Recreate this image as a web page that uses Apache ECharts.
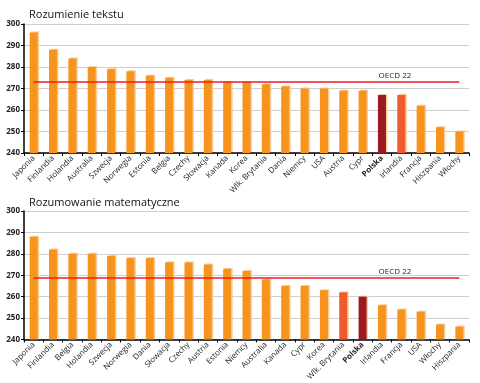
<!DOCTYPE html>
<html><head><meta charset="utf-8">
<script src="https://cdn.jsdelivr.net/npm/echarts@6/dist/echarts.min.js"></script>
<style>html,body{margin:0;padding:0;background:#fff}#c{width:480px;height:383px}</style>
</head><body><div id="c"></div>
<script>
const readCats = ["Japonia","Finlandia","Holandia","Australia","Szwecja","Norwegia","Estonia","Belgia","Czechy","Słowacja","Kanada","Korea","Wlk. Brytania","Dania","Niemcy","USA","Austria","Cypr","Polska","Irlandia","Francja","Hiszpania","Włochy"];
const readVals = [296,288,284,280,279,278,276,275,274,274,273,273,272,271,270,270,269,269,267,267,262,252,250];
const readOECD = 273;
const mathCats = ["Japonia","Finlandia","Belgia","Holandia","Szwecja","Norwegia","Dania","Słowacja","Czechy","Austria","Estonia","Niemcy","Australia","Kanada","Cypr","Korea","Wlk. Brytania","Polska","Irlandia","Francja","USA","Włochy","Hiszpania"];
const mathVals = [288,282,280,280,279,278,278,276,276,275,273,272,268,265,265,263,262,260,256,254,253,247,246];
const mathOECD = 269;
const yTicks = [240,250,260,270,280,290,300];
const oecdLabel = "OECD 22";

const ORANGE = '#F7941D', DARK = '#9A1B1F', RED = '#F05A30';
function colorFor(name, hl){ if(name==='Polska') return DARK; if(name===hl) return RED; return ORANGE; }
function barData(cats, vals, hl){
  return vals.map((v,i)=>({value:v, itemStyle:{color:colorFor(cats[i],hl)}}));
}
const font = 'Open Sans';
function xAxis(cats, gi){
  return {type:'category', gridIndex:gi, data:cats, boundaryGap:true,
    axisLine:{lineStyle:{color:'#000',width:1.5}},
    axisTick:{show:true, length:3, lineStyle:{color:'#000'}},
    axisLabel:{rotate:45, fontSize:8, color:'#222', fontFamily:font, margin:4, interval:0,
      formatter:(v)=> v==='Polska' ? '{b|'+v+'}' : v,
      rich:{b:{fontWeight:'bold', fontSize:8, color:'#222', fontFamily:font}}}};
}
function yAxis(gi){
  return {type:'value', gridIndex:gi, min:yTicks[0], max:yTicks[yTicks.length-1], interval:10,
    axisLine:{show:true, lineStyle:{color:'#000',width:1.5}},
    axisTick:{show:true, length:3, lineStyle:{color:'#000'}},
    axisLabel:{fontSize:8, fontWeight:'bold', color:'#222', fontFamily:font, margin:4},
    splitLine:{lineStyle:{color:'#cfcfcf', width:1}}};
}
function series(cats, vals, hl, oecd, gi){
  return {type:'bar', xAxisIndex:gi, yAxisIndex:gi, barWidth:8, data:barData(cats,vals,hl),
    itemStyle:{shadowColor:'rgba(250,200,140,0.9)', shadowOffsetX:1.5, shadowOffsetY:-1, shadowBlur:0},
    markLine:{silent:true, symbol:['none','none'],
      lineStyle:{color:'#ee1c25', width:1.5, type:'solid'},
      label:{show:true, position:'insideEndTop', formatter:oecdLabel, fontSize:8, color:'#222', fontFamily:font, distance:[48,2]},
      data:[[{coord:[0,oecd]},{coord:[cats.length-1,oecd]}]]}};
}
const chart = echarts.init(document.getElementById('c'), null, {renderer:'canvas'});
chart.setOption({
  animation:false,
  title:[
    {text:'Rozumienie tekstu', left:24, top:4, textStyle:{fontSize:11, fontWeight:'normal', color:'#111', fontFamily:font}},
    {text:'Rozumowanie matematyczne', left:24, top:192, textStyle:{fontSize:11, fontWeight:'normal', color:'#111', fontFamily:font}}
  ],
  grid:[
    {left:24, right:11, top:24, height:129},
    {left:24, right:11, top:211, height:130}
  ],
  xAxis:[xAxis(readCats,0), xAxis(mathCats,1)],
  yAxis:[yAxis(0), yAxis(1)],
  series:[series(readCats,readVals,'Irlandia',readOECD,0), series(mathCats,mathVals,'Wlk. Brytania',mathOECD,1)]
});
</script></body></html>
